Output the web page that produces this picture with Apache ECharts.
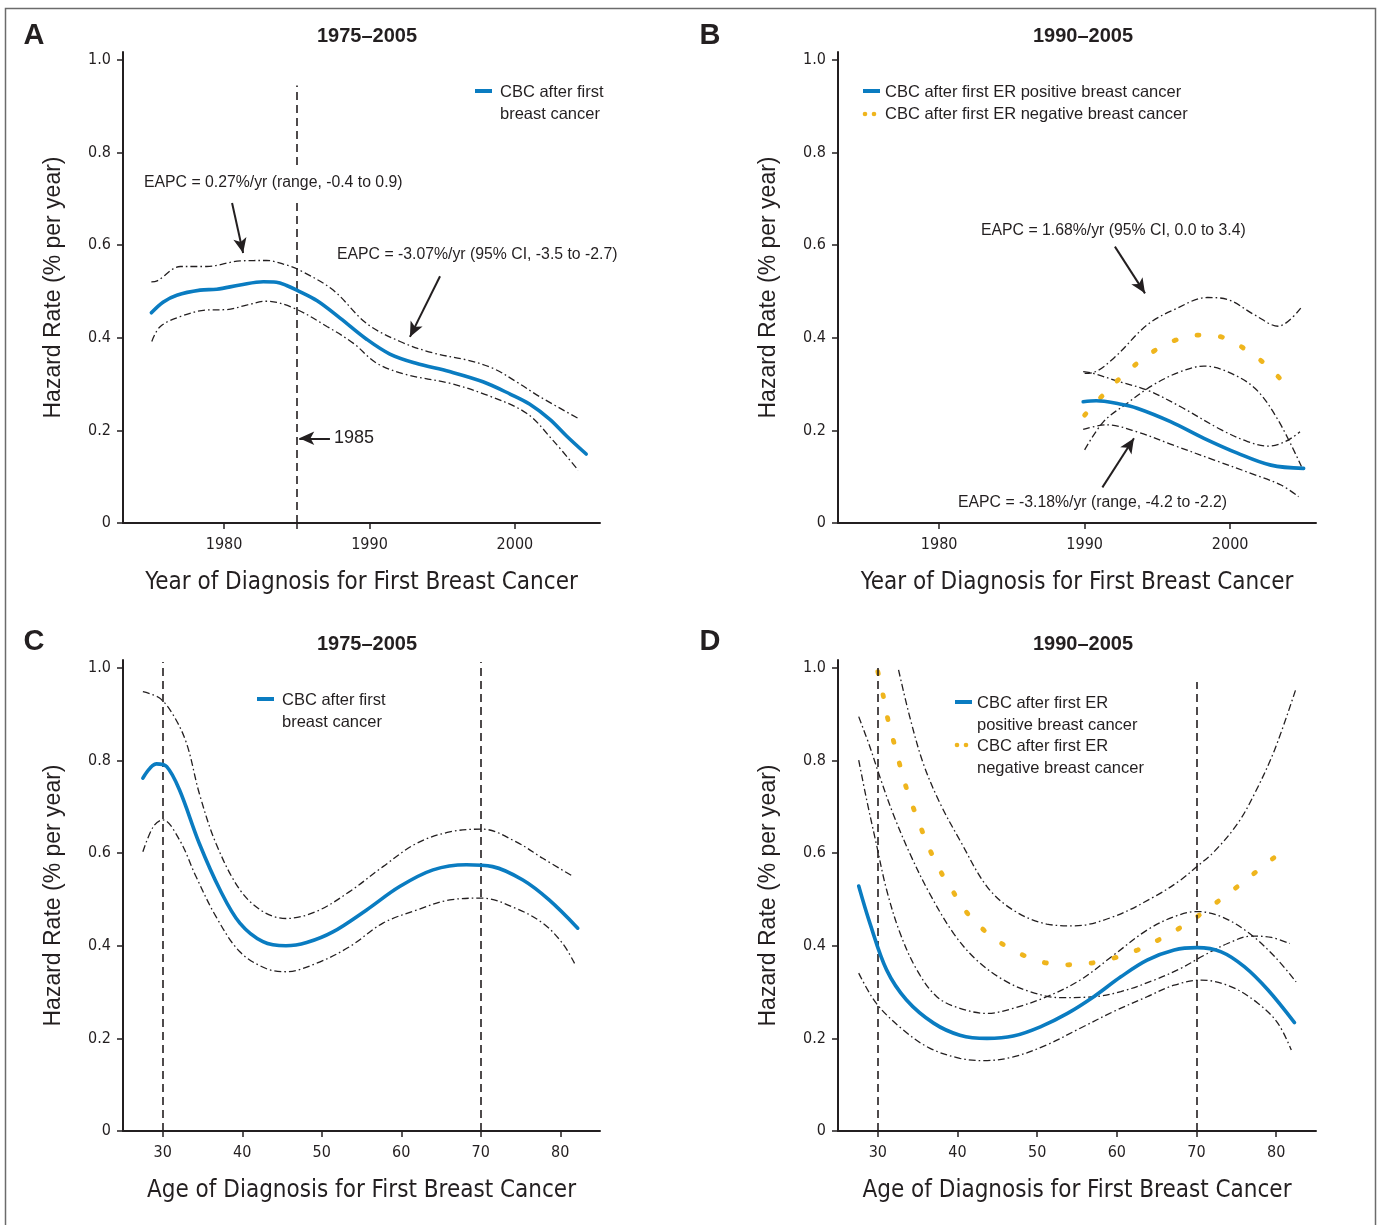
<!DOCTYPE html>
<html><head><meta charset="utf-8">
<script src="https://cdn.jsdelivr.net/npm/echarts@6/dist/echarts.min.js"></script>
<style>html,body{margin:0;padding:0;background:#fff}#c{width:1381px;height:1225px}</style>
</head><body><div id="c"></div>
<script>
// ---------- tick labels ----------
const yTicks = [0, 0.2, 0.4, 0.6, 0.8, 1.0];
const yearTicks = [1980, 1990, 2000];
const ageTicks = [30, 40, 50, 60, 70, 80];

// ---------- Panel A: 1975-2005, by year ----------
const aEst = [[1975.0,0.454],[1975.8,0.477],[1976.75,0.492],[1978.35,0.503],[1979.5,0.505],[1981.1,0.514],[1982.7,0.521],[1983.6,0.520],[1984.3,0.513],[1985.0,0.503],[1986.4,0.480],[1988.0,0.442],[1989.8,0.397],[1991.4,0.365],[1993.2,0.345],[1995.5,0.327],[1997.8,0.305],[1999.7,0.278],[2001.0,0.257],[2002.4,0.224],[2003.55,0.188],[2004.9,0.149]];
const aUp = [[1975.0,0.521],[1975.4,0.523],[1977.0,0.554],[1978.8,0.554],[1981.1,0.566],[1982.9,0.567],[1984.3,0.557],[1985.2,0.546],[1987.5,0.503],[1989.8,0.431],[1992.1,0.392],[1994.4,0.367],[1996.7,0.352],[1998.5,0.334],[2000.1,0.305],[2001.7,0.273],[2004.35,0.226]];
const aLo = [[1975.03,0.392],[1975.6,0.424],[1977.0,0.446],[1978.8,0.460],[1980.2,0.461],[1981.6,0.471],[1982.9,0.479],[1984.8,0.464],[1987.1,0.424],[1988.9,0.388],[1990.5,0.345],[1992.6,0.320],[1995.5,0.302],[1998.1,0.276],[2000.8,0.237],[2002.6,0.179],[2004.35,0.114]];

// ---------- Panel B: 1990-2005, by year, ER+ / ER- ----------
const bPos = [[1989.9,0.262],[1990.8,0.264],[1992.4,0.257],[1993.6,0.248],[1995.9,0.219],[1998.2,0.183],[2000.5,0.151],[2002.8,0.125],[2005.05,0.118]];
const bPosUp = [[1989.9,0.327],[1990.6,0.323],[1992.4,0.305],[1994.3,0.287],[1996.6,0.251],[1999.4,0.201],[2001.2,0.176],[2002.6,0.166],[2003.8,0.176],[2004.8,0.197]];
const bPosLo = [[1989.9,0.202],[1991.5,0.212],[1993.6,0.197],[1996.1,0.168],[1998.9,0.136],[2001.7,0.104],[2003.5,0.082],[2004.7,0.057]];
const bNeg = [[1990.0,0.233],[1991.5,0.284],[1993.0,0.329],[1994.6,0.368],[1996.25,0.395],[1997.9,0.406],[1999.5,0.401],[2001.1,0.374],[2002.6,0.338],[2004.1,0.289]];
const bNegUp = [[1990.0,0.323],[1990.6,0.325],[1992.0,0.356],[1994.3,0.428],[1996.1,0.460],[1998.45,0.487],[1999.8,0.483],[2001.7,0.449],[2003.3,0.425],[2004.9,0.466]];
const bNegLo = [[1990.0,0.158],[1991.3,0.219],[1992.9,0.258],[1994.7,0.298],[1996.6,0.327],[1998.2,0.339],[1999.8,0.327],[2001.7,0.291],[2003.3,0.222],[2004.9,0.122]];

// ---------- Panel C: 1975-2005, by age ----------
const cEst = [[27.5,0.762],[29.2,0.793],[30.5,0.787],[32.1,0.737],[34.6,0.621],[37.2,0.521],[39.7,0.449],[42.6,0.409],[45.5,0.400],[48.1,0.407],[51.4,0.430],[55.6,0.477],[59.8,0.528],[64.0,0.564],[68.2,0.575],[71.5,0.571],[75.3,0.542],[78.6,0.499],[82.2,0.438]];
const cUp = [[27.5,0.949],[29.6,0.935],[31.3,0.899],[33.0,0.837],[34.6,0.729],[36.7,0.621],[39.7,0.521],[42.6,0.474],[45.5,0.459],[49.3,0.474],[53.5,0.517],[57.7,0.571],[61.9,0.621],[66.1,0.646],[70.2,0.652],[74.4,0.625],[77.8,0.589],[81.5,0.551]];
const cLo = [[27.5,0.603],[28.8,0.657],[30.0,0.672],[32.1,0.629],[34.2,0.549],[36.7,0.463],[39.7,0.387],[43.0,0.351],[45.5,0.344],[49.3,0.362],[53.5,0.398],[57.7,0.449],[61.9,0.477],[66.1,0.499],[70.2,0.503],[74.4,0.481],[77.8,0.449],[80.3,0.405],[81.8,0.362]];

// ---------- Panel D: 1990-2005, by age, ER+ / ER- ----------
const dPos = [[27.6,0.529],[29.0,0.449],[31.1,0.348],[33.6,0.283],[37.0,0.233],[40.3,0.207],[43.7,0.200],[47.0,0.205],[50.4,0.225],[53.8,0.254],[57.1,0.290],[60.5,0.333],[63.8,0.369],[67.2,0.391],[70.1,0.396],[73.1,0.387],[76.0,0.355],[78.95,0.305],[82.3,0.234]];
const dPosUp = [[27.6,0.801],[28.6,0.715],[29.8,0.621],[31.1,0.521],[32.8,0.427],[34.9,0.348],[37.4,0.290],[40.3,0.265],[43.7,0.254],[47.0,0.265],[51.2,0.290],[55.4,0.326],[59.6,0.380],[63.8,0.434],[67.2,0.463],[70.1,0.474],[73.1,0.463],[76.4,0.430],[79.8,0.377],[82.5,0.322]];
const dPosLo = [[27.6,0.341],[29.8,0.276],[33.2,0.218],[36.5,0.179],[40.3,0.157],[43.3,0.152],[47.0,0.160],[51.2,0.186],[55.4,0.222],[59.6,0.258],[63.8,0.290],[67.2,0.315],[70.6,0.326],[74.3,0.312],[77.7,0.276],[80.2,0.233],[81.9,0.175]];
const dNeg = [[30.0,0.992],[30.7,0.938],[31.3,0.886],[32.1,0.834],[32.9,0.782],[33.8,0.729],[34.9,0.678],[36.1,0.625],[37.5,0.572],[39.3,0.521],[41.4,0.467],[44.3,0.420],[47.4,0.387],[50.4,0.366],[53.5,0.359],[56.5,0.362],[59.5,0.373],[62.6,0.391],[65.6,0.416],[68.7,0.447],[71.6,0.482],[74.7,0.522],[77.8,0.564],[80.8,0.605]];
const dNegUp = [[32.6,0.996],[34.0,0.895],[35.7,0.794],[37.8,0.708],[40.3,0.628],[43.7,0.528],[47.0,0.477],[51.2,0.447],[54.6,0.443],[59.6,0.463],[64.7,0.506],[68.0,0.542],[70.1,0.572],[72.2,0.603],[75.2,0.665],[77.3,0.729],[79.8,0.823],[82.5,0.956]];
const dNegLo = [[27.6,0.895],[29.0,0.830],[30.25,0.765],[31.9,0.686],[34.0,0.600],[36.5,0.513],[39.5,0.427],[42.4,0.369],[45.8,0.326],[49.1,0.301],[52.9,0.288],[57.1,0.290],[60.5,0.301],[64.7,0.326],[68.0,0.351],[71.0,0.380],[73.9,0.405],[76.9,0.421],[79.4,0.418],[81.7,0.405]];

// ---------- styling ----------
const INK = '#231f20';
const BLUE = '#0a7cc1';
const GOLD = '#efb51d';
const NARROW = '"Liberation Sans Narrow","Arial Narrow","DejaVu Sans Condensed","Liberation Sans",sans-serif';
const REG = '"Liberation Sans",Arial,Helvetica,sans-serif';
const YMAX = 1.0173;

function xAx(grid, min, max, labels, ticks, name) {
  return {
    type: 'value', gridIndex: grid, min: min, max: max,
    name: name, nameLocation: 'middle', nameGap: 48,
    nameTextStyle: {fontFamily: NARROW, fontSize: 24, color: INK},
    axisLine: {show: true, onZero: false, lineStyle: {color: INK, width: 2}},
    axisTick: {show: true, length: 6, customValues: ticks, lineStyle: {color: INK, width: 1.5}},
    axisLabel: {customValues: labels, margin: 14, fontFamily: NARROW, fontSize: 16, color: INK,
      formatter: v => String(Math.round(v))},
    splitLine: {show: false}
  };
}
function yAx(grid) {
  return {
    type: 'value', gridIndex: grid, min: 0, max: YMAX,
    name: 'Hazard Rate (% per year)', nameLocation: 'middle', nameRotate: 90, nameGap: 58,
    nameTextStyle: {fontFamily: REG, fontSize: 23, color: INK},
    axisLine: {show: true, onZero: false, lineStyle: {color: INK, width: 2}},
    axisTick: {show: true, length: 6, customValues: yTicks, lineStyle: {color: INK, width: 1.5}},
    axisLabel: {customValues: yTicks, margin: 12, fontFamily: NARROW, fontSize: 16, color: INK,
      formatter: v => (Math.abs(v) < 1e-9 ? '0' : v.toFixed(1))},
    splitLine: {show: false}
  };
}
function est(i, data, extra) {
  return Object.assign({type: 'line', xAxisIndex: i, yAxisIndex: i, data: data, showSymbol: false, smooth: 0.35,
    silent: true, z: 5, lineStyle: {color: BLUE, width: 3.6, cap: 'round'}}, extra || {});
}
function neg(i, data) {
  return {type: 'line', xAxisIndex: i, yAxisIndex: i, data: data, showSymbol: false, smooth: 0.35,
    silent: true, z: 4, lineStyle: {color: GOLD, width: 4.8, type: [2, 21.5], cap: 'round'}};
}
function ci(i, data) {
  return {type: 'line', xAxisIndex: i, yAxisIndex: i, data: data, showSymbol: false, smooth: 0.35,
    silent: true, z: 3, lineStyle: {color: INK, width: 1.3, type: [7, 3, 1.6, 3]}};
}
const DASH = {type: [8, 5], width: 1.6, color: INK};
function vline(x, y0, y1) {
  return [{coord: [x, y0], symbol: 'none', lineStyle: DASH}, {coord: [x, y1], symbol: 'none'}];
}
function arrow(x1, y1, x2, y2) {
  return [{coord: [x1, y1], symbol: 'none'}, {coord: [x2, y2], symbol: 'arrow', symbolSize: [10, 15]}];
}
function ml(data) {
  return {silent: true, animation: false, label: {show: false}, emphasis: {disabled: true},
    lineStyle: {color: INK, width: 2, type: 'solid'}, data: data};
}

function T(x, y, text, font, align) {
  return {type: 'text', x: x, y: y, silent: true,
    style: {text: text, font: font, fill: INK, textAlign: align || 'left', textVerticalAlign: 'middle'}};
}
const LF = '16.5px ' + REG;
const AF = '15.8px ' + REG;
const BIG = 'bold 29px ' + REG;
const TF = 'bold 20px ' + REG;
function blueKey(x, y) { return {type: 'rect', silent: true, shape: {x: x, y: y - 2, width: 17, height: 4}, style: {fill: BLUE}}; }
function goldKey(x, y) {
  return [{type: 'circle', silent: true, shape: {cx: x + 2, cy: y, r: 2.3}, style: {fill: GOLD}},
          {type: 'circle', silent: true, shape: {cx: x + 11, cy: y, r: 2.3}, style: {fill: GOLD}}];
}

const option = {
  animation: false,
  backgroundColor: '#ffffff',
  grid: [
    {left: 123, top: 52, width: 477, height: 471},
    {left: 838, top: 52, width: 478, height: 471},
    {left: 123, top: 660, width: 477, height: 471},
    {left: 838, top: 660, width: 478, height: 471}
  ],
  xAxis: [
    xAx(0, 1973.05, 2005.85, yearTicks, [1980, 1985, 1990, 2000], 'Year of Diagnosis for First Breast Cancer'),
    xAx(1, 1973.05, 2005.9, yearTicks, yearTicks, 'Year of Diagnosis for First Breast Cancer'),
    xAx(2, 25, 85, ageTicks, ageTicks, 'Age of Diagnosis for First Breast Cancer'),
    xAx(3, 25, 85, ageTicks, ageTicks, 'Age of Diagnosis for First Breast Cancer')
  ],
  yAxis: [yAx(0), yAx(1), yAx(2), yAx(3)],
  series: [
    ci(0, aUp), ci(0, aLo),
    est(0, aEst, {markLine: ml([
      vline(1985, 0, 0.698),
      vline(1985, 0.773, 0.945),
      arrow(1980.55, 0.691, 1981.31, 0.583),
      arrow(1994.85, 0.533, 1992.78, 0.402),
      arrow(1987.28, 0.183, 1985.17, 0.183)
    ])}),
    ci(1, bPosUp), ci(1, bPosLo), ci(1, bNegUp), ci(1, bNegLo),
    neg(1, bNeg),
    est(1, bPos, {markLine: ml([
      arrow(1992.08, 0.597, 1994.15, 0.496),
      arrow(1991.22, 0.077, 1993.39, 0.183)
    ])}),
    ci(2, cUp), ci(2, cLo),
    est(2, cEst, {markLine: ml([vline(30, 0, 1.013), vline(70, 0, 1.013)])}),
    ci(3, dPosUp), ci(3, dPosLo), ci(3, dNegUp), ci(3, dNegLo),
    neg(3, dNeg),
    est(3, dPos, {markLine: ml([vline(30, 0, 1.0), vline(70, 0, 0.97)])})
  ],
  graphic: [
    {type: 'rect', silent: true, shape: {x: 5.5, y: 8.5, width: 1370, height: 1222}, style: {fill: 'none', stroke: '#6b6b6b', lineWidth: 1.5}},
    T(34, 36, 'A', BIG, 'center'), T(710, 36, 'B', BIG, 'center'),
    T(34, 642, 'C', BIG, 'center'), T(710, 642, 'D', BIG, 'center'),
    T(367, 36, '1975\u20132005', TF, 'center'), T(1083, 36, '1990\u20132005', TF, 'center'),
    T(367, 644, '1975\u20132005', TF, 'center'), T(1083, 644, '1990\u20132005', TF, 'center'),
    // legends
    blueKey(475, 91), T(500, 92, 'CBC after first', LF), T(500, 114, 'breast cancer', LF),
    blueKey(863, 91), T(885, 92, 'CBC after first ER positive breast cancer', LF),
    ...goldKey(863, 114), T(885, 114, 'CBC after first ER negative breast cancer', LF),
    blueKey(257, 699), T(282, 700, 'CBC after first', LF), T(282, 722, 'breast cancer', LF),
    blueKey(955, 702), T(977, 703, 'CBC after first ER', LF), T(977, 725, 'positive breast cancer', LF),
    ...goldKey(955, 745), T(977, 746, 'CBC after first ER', LF), T(977, 768, 'negative breast cancer', LF),
    // annotations
    T(144, 183, 'EAPC = 0.27%/yr (range, -0.4 to 0.9)', AF),
    T(337, 255, 'EAPC = -3.07%/yr (95% CI, -3.5 to -2.7)', AF),
    T(334, 438, '1985', '18px ' + REG),
    T(981, 231, 'EAPC = 1.68%/yr (95% CI, 0.0 to 3.4)', AF),
    T(958, 503, 'EAPC = -3.18%/yr (range, -4.2 to -2.2)', AF)
  ]
};
const chart = echarts.init(document.getElementById('c'), null, {renderer: 'canvas'});
chart.setOption(option);
</script>
</body></html>
